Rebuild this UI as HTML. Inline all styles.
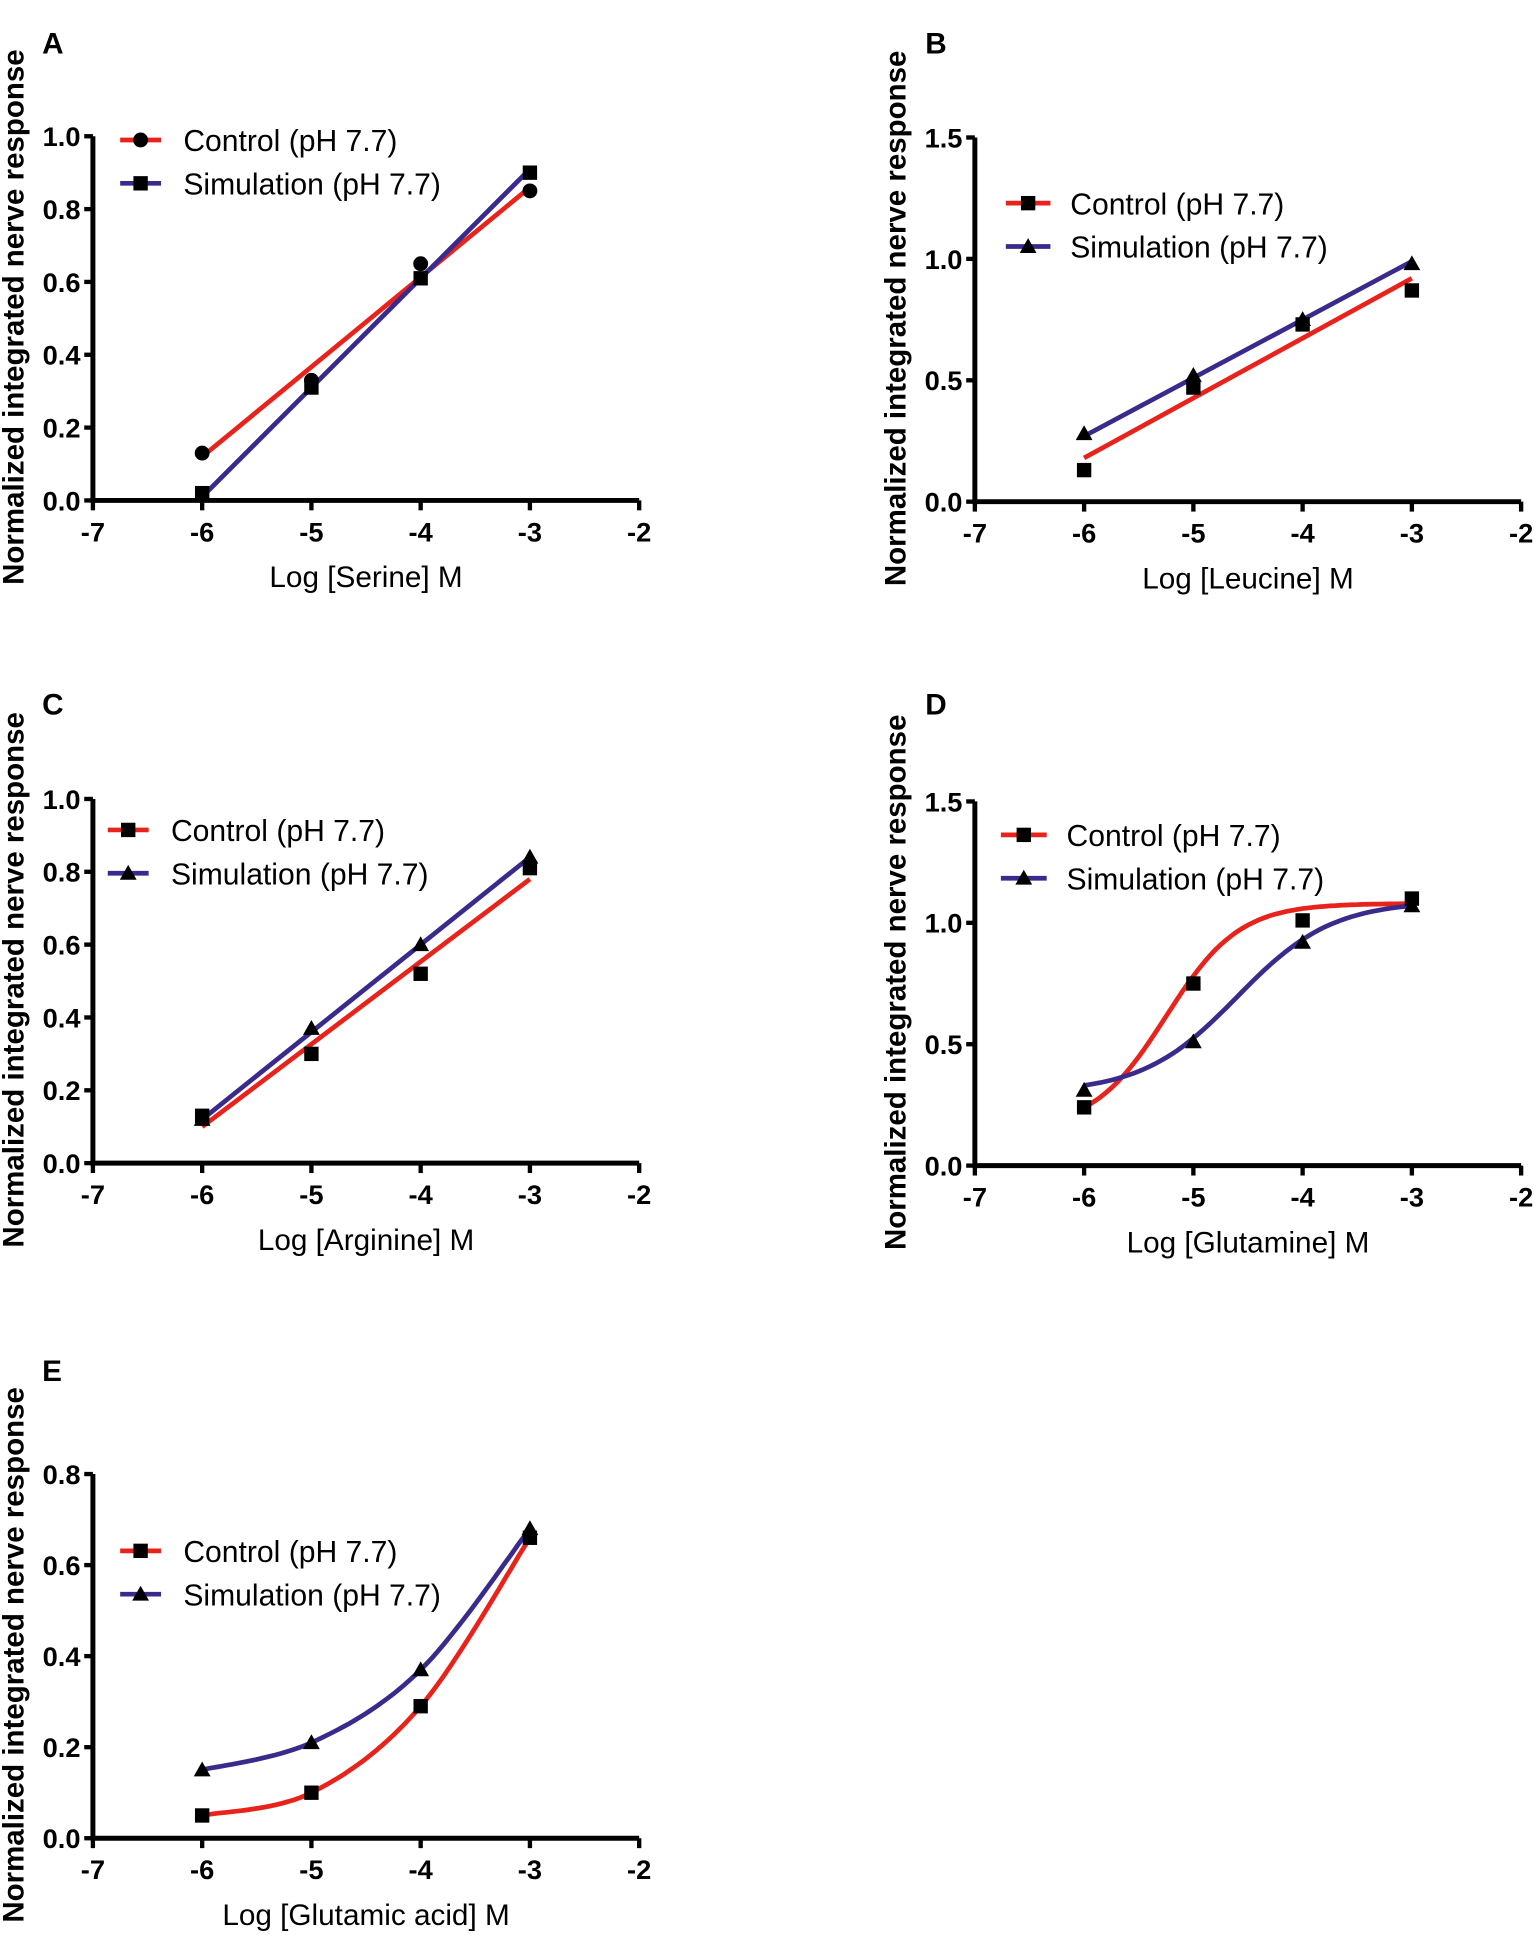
<!DOCTYPE html>
<html><head><meta charset="utf-8"><style>body{margin:0;background:#fff}svg{display:block}</style></head>
<body>
<svg id="s" width="1536" height="1945" viewBox="0 0 1240 1570.2" xmlns="http://www.w3.org/2000/svg" font-family="Liberation Sans, Arial, sans-serif"></svg>
<script>
const S=document.getElementById('s');let h='';
const RED='#e8231b',BLUE='#3a2a8c';
function marker(t,x,y){
 if(t=='c')return `<circle cx="${x}" cy="${y}" r="6" fill="#000"/>`;
 if(t=='s')return `<rect x="${x-5.8}" y="${y-5.8}" width="11.6" height="11.6" fill="#000"/>`;
 return `<polygon points="${x},${y-6.8} ${x-6.8},${y+5.2} ${x+6.8},${y+5.2}" fill="#000"/>`;
}
function panel(o){
 const X=v=>o.ax+(v+7)*88.2, Y=v=>o.y0-(v/o.ymax)*294;
 h+=`<text x="${o.lx}" y="${o.ly}" font-size="24" font-weight="bold">${o.letter}</text>`;
 h+=`<path d="M${o.ax},${o.y0-294} V${o.y0} H${X(-2)}" fill="none" stroke="#000" stroke-width="4"/>`;
 for(let i=0;i<=o.n;i++){const v=o.ymax*i/o.n,y=Y(v);
  h+=`<line x1="${o.ax-7}" y1="${y}" x2="${o.ax}" y2="${y}" stroke="#000" stroke-width="3.5"/>`;
  h+=`<text x="${o.ax-10}" y="${y+8}" font-size="22" font-weight="bold" text-anchor="end">${v.toFixed(1)}</text>`;}
 for(let v=-7;v<=-2;v++){const x=X(v);
  h+=`<line x1="${x}" y1="${o.y0}" x2="${x}" y2="${o.y0+8}" stroke="#000" stroke-width="3.5"/>`;
  h+=`<text x="${x}" y="${o.y0+33}" font-size="22" font-weight="bold" text-anchor="middle">${v}</text>`;}
 h+=`<text x="${X(-4.5)}" y="${o.y0+70}" font-size="24" text-anchor="middle">${o.xl}</text>`;
 const yc=o.y0-148;
 h+=`<text transform="translate(${o.ax-56},${yc}) rotate(-90)" font-size="23.8" font-weight="bold" text-anchor="middle">Normalized integrated nerve response</text>`;
 o.series.forEach((s,k)=>{
  let pts=s.curve.map(p=>X(p[0]).toFixed(1)+','+Y(p[1]).toFixed(1)).join(' ');
  h+=`<polyline points="${pts}" fill="none" stroke="${s.col}" stroke-width="3.8"/>`;
 });
 o.series.forEach((s,k)=>{
  s.d.forEach((v,i)=>h+=marker(s.m,X(-6+i),Y(v)));
  const ly=o.leg[k];
  h+=`<line x1="${o.lg[0]}" y1="${ly}" x2="${o.lg[1]}" y2="${ly}" stroke="${s.col}" stroke-width="3.8"/>`;
  h+=marker(s.m,(o.lg[0]+o.lg[1])/2,ly);
  h+=`<text x="${o.lg[2]}" y="${ly+9}" font-size="24.3">${s.name}</text>`;
 });
}
const lin=(a,b)=>[[-6,a],[-3,b]];
function sig(b,t,ec,hh){let r=[];for(let x=-6;x<=-3.0001+0.001;x+=0.05)r.push([x,b+(t-b)/(1+Math.pow(10,(ec-x)*hh))]);return r;}
function cr(d){let p=d.map((v,i)=>[-6+i,v]),r=[];
 for(let i=0;i<3;i++){const p0=p[Math.max(0,i-1)],p1=p[i],p2=p[i+1],p3=p[Math.min(3,i+2)];
  for(let t=0;t<=1;t+=0.05){const t2=t*t,t3=t2*t;
   const f=(a,b,c,d)=>0.5*(2*b+(-a+c)*t+(2*a-5*b+4*c-d)*t2+(-a+3*b-3*c+d)*t3);
   r.push([f(p0[0],p1[0],p2[0],p3[0]),f(p0[1],p1[1],p2[1],p3[1])]);}}
 return r;}
const C='Control (pH 7.7)',Sm='Simulation (pH 7.7)';
panel({letter:'A',lx:34,ly:43,ax:75,y0:404,ymax:1,n:5,xl:'Log [Serine] M',leg:[113,148],lg:[97,130,148],
 series:[{col:RED,m:'c',name:C,d:[.13,.33,.65,.85],curve:lin(.12,.86)},{col:BLUE,m:'s',name:Sm,d:[.02,.31,.61,.90],curve:lin(.01,.91)}]});
panel({letter:'B',lx:747,ly:43,ax:787,y0:405,ymax:1.5,n:3,xl:'Log [Leucine] M',leg:[164,199],lg:[812,848,864],
 series:[{col:RED,m:'s',name:C,d:[.13,.47,.73,.87],curve:lin(.18,.92)},{col:BLUE,m:'t',name:Sm,d:[.28,.52,.75,.98],curve:lin(.27,.99)}]});
panel({letter:'C',lx:34,ly:577,ax:75,y0:939,ymax:1,n:5,xl:'Log [Arginine] M',leg:[670,705],lg:[87,120,138],
 series:[{col:RED,m:'s',name:C,d:[.13,.30,.52,.81],curve:lin(.10,.78)},{col:BLUE,m:'t',name:Sm,d:[.12,.37,.60,.84],curve:lin(.12,.84)}]});
panel({letter:'D',lx:747,ly:577,ax:787,y0:941,ymax:1.5,n:3,xl:'Log [Glutamine] M',leg:[674,709],lg:[808,845,861],
 series:[{col:RED,m:'s',name:C,d:[.24,.75,1.01,1.10],curve:sig(.15,1.08,-5.25,1.3)},{col:BLUE,m:'t',name:Sm,d:[.31,.51,.92,1.07],curve:sig(.3,1.09,-4.6,1)}]});
panel({letter:'E',lx:34,ly:1115,ax:75,y0:1484,ymax:0.8,n:4,xl:'Log [Glutamic acid] M',leg:[1252,1287],lg:[97,130,148],
 series:[{col:RED,m:'s',name:C,d:[.05,.10,.29,.66],curve:cr([.05,.10,.29,.66])},{col:BLUE,m:'t',name:Sm,d:[.15,.21,.37,.68],curve:cr([.15,.21,.37,.68])}]});
S.innerHTML=h;
</script>
</body></html>
